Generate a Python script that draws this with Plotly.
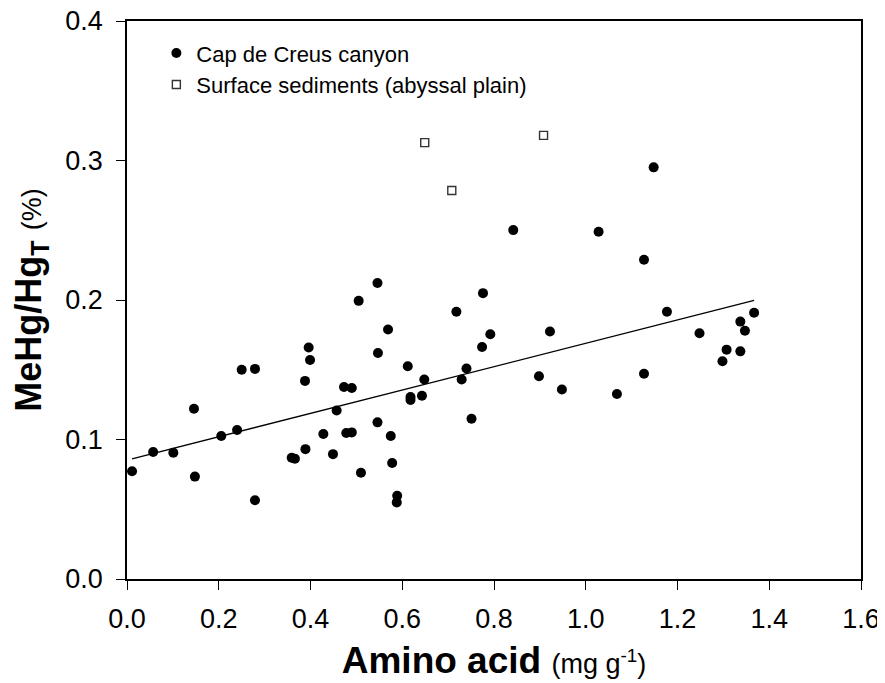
import plotly.graph_objects as go

# Cap de Creus canyon data (amino acid mg/g, MeHg/HgT %)
canyon_x = [0.011, 0.057, 0.101, 0.146, 0.148, 0.2055, 0.240, 0.250, 0.279, 0.279,
            0.359, 0.366, 0.388, 0.389, 0.396, 0.399, 0.428, 0.449, 0.457, 0.473,
            0.490, 0.478, 0.490, 0.505, 0.510, 0.546, 0.547, 0.546, 0.569, 0.575,
            0.578, 0.589, 0.588, 0.612, 0.618, 0.618, 0.643, 0.648, 0.718, 0.7295,
            0.740, 0.751, 0.774, 0.776, 0.792, 0.842, 0.898, 0.922, 0.948, 1.028,
            1.068, 1.127, 1.127, 1.148, 1.177, 1.248, 1.298, 1.307, 1.337, 1.337,
            1.347, 1.367]
canyon_y = [0.0772, 0.091, 0.0905, 0.122, 0.0734, 0.1025, 0.1068, 0.150, 0.1506, 0.0564,
            0.0869, 0.0862, 0.142, 0.0931, 0.166, 0.157, 0.104, 0.0895, 0.1208, 0.1376,
            0.1369, 0.1047, 0.1051, 0.1994, 0.0762, 0.2122, 0.162, 0.1123, 0.1788, 0.1025,
            0.0831, 0.0597, 0.0549, 0.1525, 0.1305, 0.1284, 0.1314, 0.1430, 0.1916, 0.1430,
            0.1509, 0.1149, 0.1663, 0.2049, 0.1755, 0.2501, 0.1454, 0.1774, 0.1359, 0.2489,
            0.1326, 0.2288, 0.1471, 0.2951, 0.1916, 0.1762, 0.1561, 0.1644, 0.1632, 0.1845,
            0.178, 0.1909]

# Surface sediments (abyssal plain)
surface_x = [0.649, 0.708, 0.908]
surface_y = [0.3128, 0.2785, 0.318]

# Regression line
fit_intercept = 0.0852
fit_slope = 0.0838

x_ticks = [0.0, 0.2, 0.4, 0.6, 0.8, 1.0, 1.2, 1.4, 1.6]
y_ticks = [0.0, 0.1, 0.2, 0.3, 0.4]

FONT = "Liberation Sans, Arial, sans-serif"

fit_x = [min(canyon_x), max(canyon_x)]
fit_y = [fit_intercept + fit_slope * v for v in fit_x]

fig = go.Figure()
fig.add_trace(go.Scatter(x=fit_x, y=fit_y, mode="lines",
                         line=dict(color="black", width=1.3), showlegend=False,
                         hoverinfo="skip"))
fig.add_trace(go.Scatter(x=canyon_x, y=canyon_y, mode="markers",
                         name="Cap de Creus canyon",
                         marker=dict(symbol="circle", size=10, color="black",
                                     line=dict(width=0))))
fig.add_trace(go.Scatter(x=surface_x, y=surface_y, mode="markers",
                         name="Surface sediments (abyssal plain)",
                         marker=dict(symbol="square", size=8, color="white",
                                     line=dict(width=1.4, color="#333333"))))

axis_common = dict(showgrid=False, zeroline=False, showline=True, linecolor="black",
                   linewidth=1.5, mirror=True, ticks="outside", ticklen=9,
                   tickwidth=1.2, tickcolor="black", automargin=False,
                   ticklabeloverflow="allow",
                   tickfont=dict(family=FONT, size=27, color="black"))

fig.update_layout(
    width=877, height=675,
    margin=dict(l=119, r=24, t=13, b=104),
    paper_bgcolor="white", plot_bgcolor="white",
    font=dict(family=FONT, color="black"),
    xaxis=dict(range=[0, 1.6], tickvals=x_ticks,
               ticktext=[f"{v:.1f}" for v in x_ticks],
               ticklabelstandoff=6,
               title=dict(text="<b>Amino acid</b> <span style='font-size:27px'>(mg g<sup>-1</sup>)</span>",
                          font=dict(family=FONT, size=37), standoff=14),
               **axis_common),
    yaxis=dict(range=[0, 0.4], tickvals=y_ticks,
               ticktext=[f"{v:.1f}" for v in y_ticks],
               ticklabelstandoff=8,
               title=dict(text="<b>MeHg/Hg<sub>T</sub></b> <span style='font-size:27px'>(%)</span>",
                          font=dict(family=FONT, size=36), standoff=16),
               **axis_common),
    legend=dict(x=0.04, y=0.98, xanchor="left", yanchor="top",
                bgcolor="rgba(0,0,0,0)", borderwidth=0,
                font=dict(family=FONT, size=22, color="black"),
                tracegroupgap=0, itemwidth=30),
)

fig.write_html("out.html")
